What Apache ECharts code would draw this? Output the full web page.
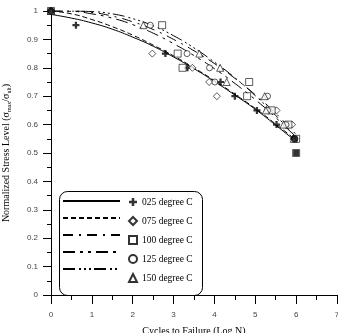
<!DOCTYPE html>
<html>
<head>
<meta charset="utf-8">
<script src="https://cdn.jsdelivr.net/npm/echarts@6/dist/echarts.min.js"></script>
<style>
    html, body { margin: 0; padding: 0; background: #fff; }
    #chart { width: 338px; height: 333px; }
</style>
</head>
<body>
<div id="chart"></div>
<script>
// temperatures shown in the legend
const seriesNames = ['025 degree C', '075 degree C', '100 degree C', '125 degree C', '150 degree C']

// test points (log N, normalized stress)
const x025 = [0, 0.61, 2.8, 3.34, 4.15, 4.5, 5.04, 5.52, 5.94]
const y025 = [1, 0.95, 0.85, 0.80, 0.75, 0.70, 0.65, 0.60, 0.55]
const x075 = [0, 2.48, 3.46, 3.87, 4.06, 5.52, 5.9, 5.97]
const y075 = [1, 0.85, 0.80, 0.75, 0.70, 0.65, 0.60, 0.55]
const x100 = [0, 2.72, 3.1, 3.22, 4.85, 4.8, 5.4, 5.81, 6.0, 6.0]
const y100 = [1, 0.95, 0.85, 0.80, 0.75, 0.70, 0.65, 0.60, 0.55, 0.50]
const x125 = [0, 2.43, 3.33, 3.88, 4.01, 5.3, 5.3, 5.75, 5.97]
const y125 = [1, 0.95, 0.85, 0.80, 0.75, 0.70, 0.65, 0.60, 0.55]
const x150 = [0, 2.26, 3.63, 4.14, 4.3, 5.23, 5.26, 5.69, 5.94]
const y150 = [1, 0.95, 0.85, 0.80, 0.75, 0.70, 0.65, 0.60, 0.55]

// spots where several markers pile up into a solid blob
const xBlobRound = [0, 5.96]
const yBlobRound = [1, 0.55]
const xBlobSquare = [6.0]
const yBlobSquare = [0.50]

// fitted curves, sampled every 0.5 log cycles
const curveX = [0, 0.5, 1, 1.5, 2, 2.5, 3, 3.5, 4, 4.5, 5, 5.5, 6]
const fit025 = [0.988, 0.975, 0.958, 0.936, 0.908, 0.876, 0.838, 0.797, 0.752, 0.704, 0.654, 0.598, 0.540]
const fit075 = [1.0, 0.99, 0.97, 0.945, 0.915, 0.88, 0.842, 0.80, 0.755, 0.707, 0.657, 0.602, 0.545]
const fit100 = [1.0, 1.0, 0.995, 0.982, 0.962, 0.935, 0.90, 0.86, 0.815, 0.763, 0.705, 0.64, 0.565]
const fit125 = [1.0, 0.999, 0.99, 0.975, 0.952, 0.922, 0.885, 0.843, 0.797, 0.745, 0.688, 0.625, 0.555]
const fit150 = [1.0, 1.0, 0.998, 0.99, 0.973, 0.948, 0.913, 0.87, 0.82, 0.765, 0.702, 0.632, 0.555]

const pointsX = [x025, x075, x100, x125, x150]
const pointsY = [y025, y075, y100, y125, y150]
const fits = [fit025, fit075, fit100, fit125, fit150]

const dashes = [
    'solid',
    [5, 3],
    [10, 6, 2, 6],
    [12, 5, 3, 5, 3, 5],
    [12, 4, 2, 3, 2, 3, 2, 3]
]
const plusPath = 'path://M3.4,0H6.6V3.4H10V6.6H6.6V10H3.4V6.6H0V3.4H3.4Z'
const symbols = [plusPath, 'diamond', 'rect', 'circle', 'triangle']
const symbolSizes = [7, 7, 7, 6, 7]

const zip = (xs, ys) => xs.map((x, i) => [x, ys[i]])

const series = []
seriesNames.forEach((name, i) => {
    series.push({
        name: 'fit ' + name,
        type: 'line',
        data: zip(curveX, fits[i]),
        smooth: true,
        symbol: 'none',
        lineStyle: { color: '#000', width: 1, type: dashes[i] },
        itemStyle: { color: '#000' },
        z: 2
    })
})
seriesNames.forEach((name, i) => {
    series.push({
        name: name,
        type: 'scatter',
        data: zip(pointsX[i], pointsY[i]),
        symbol: symbols[i],
        symbolSize: symbolSizes[i],
        itemStyle: i === 0
            ? { color: '#000' }
            : { color: '#fff', borderColor: '#000', borderWidth: 0.8 },
        z: 3
    })
})
series.push({
    name: 'coincident round',
    type: 'scatter',
    data: zip(xBlobRound, yBlobRound),
    symbol: 'circle',
    symbolSize: 7,
    itemStyle: { color: '#000' },
    z: 4
})
series.push({
    name: 'coincident square',
    type: 'scatter',
    data: zip(xBlobSquare, yBlobSquare),
    symbol: 'rect',
    symbolSize: 6,
    itemStyle: { color: '#000' },
    z: 4
})

const tickFont = { fontFamily: 'Liberation Sans, Arial, sans-serif', fontSize: 8, color: '#444' }
const serif = 'Liberation Serif, Times New Roman, serif'

const chart = echarts.init(document.getElementById('chart'), null, { renderer: 'canvas' })
chart.setOption({
    animation: false,
    backgroundColor: '#fff',
    grid: { left: 51, right: 1, top: 11, bottom: 38, outerBoundsMode: 'none' },
    xAxis: {
        type: 'value',
        min: 0,
        max: 7,
        interval: 1,
        name: 'Cycles to Failure (Log N)',
        nameLocation: 'middle',
        nameGap: 31,
        nameTextStyle: { fontFamily: serif, fontSize: 10, color: '#000' },
        axisLine: { lineStyle: { color: '#000', width: 1 } },
        axisTick: { length: 9, lineStyle: { color: '#000' } },
        minorTick: { show: true, splitNumber: 2, length: 5, lineStyle: { color: '#000' } },
        splitLine: { show: false },
        axisLabel: { margin: 16, ...tickFont }
    },
    yAxis: {
        type: 'value',
        min: 0,
        max: 1,
        interval: 0.1,
        name: '{a|Normalized Stress Level (σ}{s|max}{a|/σ}{s|ult}{a|)}',
        nameLocation: 'middle',
        nameRotate: 90,
        nameGap: 39,
        nameTextStyle: {
            rich: {
                a: { fontFamily: serif, fontSize: 10, color: '#000' },
                s: { fontFamily: serif, fontSize: 6, color: '#000', verticalAlign: 'bottom', padding: [6, 0, 0, 0] }
            }
        },
        axisLine: { lineStyle: { color: '#000', width: 1 } },
        axisTick: { length: 8, lineStyle: { color: '#000' } },
        minorTick: { show: true, splitNumber: 2, length: 4, lineStyle: { color: '#000' } },
        splitLine: { show: false },
        axisLabel: { margin: 13, ...tickFont }
    },
    legend: [
        {
            data: seriesNames.map(n => 'fit ' + n),
            orient: 'vertical',
            left: 62,
            top: 197,
            itemWidth: 57,
            itemHeight: 10,
            itemGap: 9,
            padding: 0,
            formatter: () => '',
            selectedMode: false,
            textStyle: { lineHeight: 10, fontSize: 9.5 },
            itemStyle: { color: 'transparent', borderColor: 'transparent', borderWidth: 0 }
        },
        {
            data: seriesNames,
            orient: 'vertical',
            left: 128,
            top: 197,
            itemWidth: 8,
            itemHeight: 8,
            itemGap: 9,
            padding: 0,
            selectedMode: false,
            textStyle: { fontFamily: serif, fontSize: 9.5, lineHeight: 10, color: '#000' }
        }
    ],
    graphic: [
        {
            type: 'rect',
            left: 57,
            top: 189,
            shape: { width: 143, height: 104, r: 8 },
            style: { fill: 'none', stroke: '#000', lineWidth: 1 },
            z: 10
        }
    ],
    series: series
})
</script>
</body>
</html>
